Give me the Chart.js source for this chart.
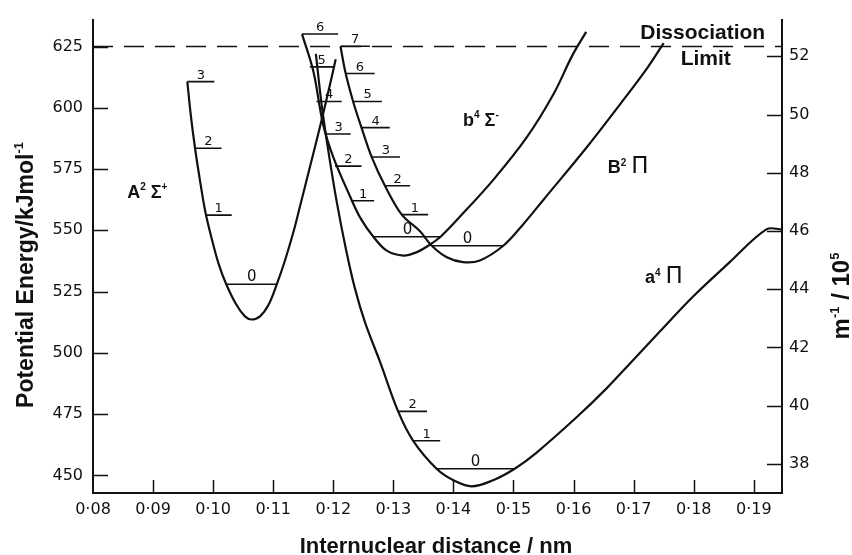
<!DOCTYPE html>
<html>
<head>
<meta charset="utf-8">
<script src="https://cdn.jsdelivr.net/npm/chart.js@4.4.1/dist/chart.umd.min.js"></script>
<style>
  html, body { margin: 0; padding: 0; background: #fff; }
  #wrap { width: 852px; height: 555px; }
</style>
</head>
<body>
<div id="wrap"><canvas id="myChart"></canvas></div>
<script>
// potential curves: internuclear distance (nm) / energy (kJ mol-1)
var stateA_r = [0.0957, 0.0963, 0.0970, 0.0978, 0.0987, 0.0997, 0.1009, 0.1022, 0.1039, 0.1053, 0.1064, 0.1078, 0.1092, 0.1106, 0.1120, 0.1134, 0.1144, 0.1161, 0.1179, 0.1193, 0.1204];
var stateA_E = [610.7, 596.6, 583.3, 570.5, 557.6, 547.2, 536.4, 527.9, 519.5, 514.9, 513.6, 514.9, 519.5, 528.0, 538.0, 549.6, 559.2, 575.7, 593.4, 607.9, 619.8];

var stateb_r = [0.1148, 0.1167, 0.1183, 0.1200, 0.1228, 0.1245, 0.1267, 0.1289, 0.1317, 0.1339, 0.1358, 0.1380, 0.1411, 0.1466, 0.1522, 0.1566, 0.1598, 0.1621];
var stateb_E = [630.1, 614.7, 593.3, 579.9, 563.8, 555.1, 547.3, 541.7, 539.7, 541.1, 543.7, 547.7, 555.6, 570.5, 587.9, 605.3, 621.4, 631.0];

var stateB_r = [0.1212, 0.1220, 0.1233, 0.1247, 0.1264, 0.1286, 0.1314, 0.1344, 0.1364, 0.1389, 0.1416, 0.1444, 0.1483, 0.1516, 0.1550, 0.1622, 0.1677, 0.1722, 0.1750];
var stateB_E = [625.1, 614.7, 602.6, 591.9, 579.9, 568.2, 556.4, 549.7, 543.7, 539.0, 537.0, 537.7, 543.7, 552.4, 562.5, 583.9, 601.3, 616.0, 626.4];

var statea_r = [0.1171, 0.1181, 0.1193, 0.1206, 0.1221, 0.1236, 0.1253, 0.1278, 0.1308, 0.1333, 0.1372, 0.1400, 0.1430, 0.1466, 0.1502, 0.1538, 0.1605, 0.1655, 0.1699, 0.1744, 0.1799, 0.1860, 0.1921, 0.1947];
var statea_E = [622.0, 600.6, 580.5, 561.3, 542.4, 526.3, 512.3, 496.2, 476.1, 464.1, 452.7, 448.0, 445.5, 448.0, 452.7, 459.2, 473.7, 485.5, 497.0, 508.8, 523.0, 537.0, 550.4, 550.4];

// vibrational levels v = 0,1,2... : left end, right end, energy
var levelsA_r1 = [0.1023, 0.0987, 0.0970, 0.0957];
var levelsA_r2 = [0.1106, 0.1031, 0.1014, 0.1002];
var levelsA_E  = [528.0, 556.2, 583.5, 610.7];

var levelsb_r1 = [0.1267, 0.1231, 0.1203, 0.1189, 0.1172, 0.1161, 0.1148];
var levelsb_r2 = [0.1380, 0.1268, 0.1247, 0.1229, 0.1214, 0.1200, 0.1208];
var levelsb_E  = [547.4, 562.1, 576.2, 589.3, 602.6, 616.7, 630.1];

var levelsB_r1 = [0.1364, 0.1314, 0.1286, 0.1264, 0.1247, 0.1233, 0.1220, 0.1212];
var levelsB_r2 = [0.1483, 0.1358, 0.1328, 0.1311, 0.1294, 0.1281, 0.1269, 0.1261];
var levelsB_E  = [543.7, 556.4, 568.2, 579.9, 591.9, 602.6, 614.0, 625.1];

var levelsa_r1 = [0.1372, 0.1333, 0.1308];
var levelsa_r2 = [0.1502, 0.1378, 0.1356];
var levelsa_E  = [452.7, 464.1, 476.1];

var dissociationE = 625;

var xTicks = [0.08, 0.09, 0.10, 0.11, 0.12, 0.13, 0.14, 0.15, 0.16, 0.17, 0.18, 0.19];
var xTickLabels = ['0·08', '0·09', '0·10', '0·11', '0·12', '0·13', '0·14', '0·15', '0·16', '0·17', '0·18', '0·19'];
var energyTicks = [450, 475, 500, 525, 550, 575, 600, 625];
var waveTicks = [38, 40, 42, 44, 46, 48, 50, 52];

var xMin = 0.08, xMax = 0.1947;
var eMin = 442.8, eMax = 636.0;
var wMin = 37.0, wMax = 53.26;

function zip(xs, ys) {
  var out = [];
  for (var i = 0; i < xs.length; i++) out.push({x: xs[i], y: ys[i]});
  return out;
}

function levelPoints(r1, r2, e) {
  var out = [];
  for (var i = 0; i < e.length; i++) {
    out.push({x: r1[i], y: e[i]});
    out.push({x: r2[i], y: e[i]});
    out.push({x: NaN, y: NaN});
  }
  return out;
}

function curve(label, xs, ys) {
  return {
    label: label, data: zip(xs, ys), showLine: true, borderColor: '#111',
    borderWidth: 2.2, pointRadius: 0, tension: 0.35, fill: false
  };
}

function levels(label, r1, r2, e) {
  return {
    label: label, data: levelPoints(r1, r2, e), showLine: true, borderColor: '#111',
    borderWidth: 1.6, pointRadius: 0, tension: 0, spanGaps: false, fill: false
  };
}

var levelSets = [
  [levelsA_r1, levelsA_r2, levelsA_E],
  [levelsb_r1, levelsb_r2, levelsb_E],
  [levelsB_r1, levelsB_r2, levelsB_E],
  [levelsa_r1, levelsa_r2, levelsa_E]
];

function partFont(p, size) {
  if (p.sup) return 'bold ' + Math.round(size * 0.55) + 'px "Liberation Sans", Arial, sans-serif';
  if (p.pi) return Math.round(size * 1.25) + 'px "DejaVu Sans", sans-serif';
  return 'bold ' + size + 'px "Liberation Sans", Arial, sans-serif';
}

function drawRich(ctx, parts, x, y, size, align) {
  var total = 0, widths = [];
  parts.forEach(function (p) {
    ctx.font = partFont(p, size);
    var w = ctx.measureText(p.t).width;
    widths.push(w);
    total += w;
  });
  var cx = align === 'center' ? x - total / 2 : x;
  ctx.textAlign = 'left';
  ctx.textBaseline = 'alphabetic';
  parts.forEach(function (p, i) {
    ctx.font = partFont(p, size);
    ctx.fillText(p.t, cx, p.sup ? y - size * 0.42 : y);
    cx += widths[i];
  });
}

var annotations = {
  id: 'annotations',
  afterDraw: function (chart) {
    var ctx = chart.ctx;
    var sx = chart.scales.x, sy = chart.scales.y, sw = chart.scales.y2;
    var area = chart.chartArea;
    ctx.save();
    ctx.strokeStyle = '#111';
    ctx.fillStyle = '#111';

    // inward tick marks
    ctx.lineWidth = 1.5;
    ctx.beginPath();
    xTicks.forEach(function (v, i) {
      if (i === 0) return;
      var p = Math.round(sx.getPixelForValue(v)) + 0.5;
      ctx.moveTo(p, area.bottom);
      ctx.lineTo(p, area.bottom - 13);
    });
    energyTicks.forEach(function (v) {
      var p = Math.round(sy.getPixelForValue(v)) + 0.5;
      ctx.moveTo(area.left, p);
      ctx.lineTo(area.left + 15, p);
    });
    waveTicks.forEach(function (v) {
      var p = Math.round(sw.getPixelForValue(v)) + 0.5;
      ctx.moveTo(area.right, p);
      ctx.lineTo(area.right - 15, p);
    });
    ctx.stroke();

    // vibrational quantum numbers above each level
    ctx.textAlign = 'center';
    ctx.textBaseline = 'alphabetic';
    levelSets.forEach(function (set) {
      for (var v = 0; v < set[2].length; v++) {
        var mx = (sx.getPixelForValue(set[0][v]) + sx.getPixelForValue(set[1][v])) / 2;
        var my = sy.getPixelForValue(set[2][v]);
        ctx.font = (v === 0 ? '15px' : '13px') + ' "DejaVu Sans", sans-serif';
        ctx.fillText(String(v), mx, my - 3);
      }
    });

    // state labels
    drawRich(ctx, [{t: 'A'}, {t: '2', sup: true}, {t: ' Σ'}, {t: '+', sup: true}],
      sx.getPixelForValue(0.0857), sy.getPixelForValue(563.3), 18, 'left');
    drawRich(ctx, [{t: 'b'}, {t: '4', sup: true}, {t: ' Σ'}, {t: '-', sup: true}],
      sx.getPixelForValue(0.1416), sy.getPixelForValue(592.6), 18, 'left');
    drawRich(ctx, [{t: 'B'}, {t: '2', sup: true}, {t: ' '}, {t: 'Π', pi: true}],
      sx.getPixelForValue(0.1657), sy.getPixelForValue(573.3), 18, 'left');
    drawRich(ctx, [{t: 'a'}, {t: '4', sup: true}, {t: ' '}, {t: 'Π', pi: true}],
      sx.getPixelForValue(0.1719), sy.getPixelForValue(528.3), 18, 'left');
    drawRich(ctx, [{t: 'Dissociation'}], sx.getPixelForValue(0.1815), sy.getPixelForValue(627.9), 21, 'center');
    drawRich(ctx, [{t: 'Limit'}], sx.getPixelForValue(0.1820), sy.getPixelForValue(617.5), 21, 'center');

    // axis titles
    drawRich(ctx, [{t: 'Internuclear distance / nm'}], 436, 553, 22, 'center');

    ctx.save();
    ctx.translate(25, 275);
    ctx.rotate(-Math.PI / 2);
    drawRich(ctx, [{t: 'Potential Energy/kJmol'}, {t: '-1', sup: true}], 0, 8, 23, 'center');
    ctx.restore();

    ctx.save();
    ctx.translate(841, 296);
    ctx.rotate(-Math.PI / 2);
    drawRich(ctx, [{t: 'm'}, {t: '-1', sup: true}, {t: ' / 10'}, {t: '5', sup: true}], 0, 8, 24, 'center');
    ctx.restore();

    ctx.restore();
  }
};

var ctx = document.getElementById('myChart').getContext('2d');
var myChart = new Chart(ctx, {
  type: 'scatter',
  data: {
    datasets: [
      curve('A2Σ+', stateA_r, stateA_E),
      curve('b4Σ-', stateb_r, stateb_E),
      curve('B2Π', stateB_r, stateB_E),
      curve('a4Π', statea_r, statea_E),
      levels('A levels', levelsA_r1, levelsA_r2, levelsA_E),
      levels('b levels', levelsb_r1, levelsb_r2, levelsb_E),
      levels('B levels', levelsB_r1, levelsB_r2, levelsB_E),
      levels('a levels', levelsa_r1, levelsa_r2, levelsa_E),
      {
        label: 'Dissociation Limit',
        data: [{x: xMin, y: dissociationE}, {x: xMax, y: dissociationE}],
        showLine: true, borderColor: '#111', borderWidth: 1.5, borderDash: [20, 11], pointRadius: 0
      }
    ]
  },
  options: {
    responsive: true,
    maintainAspectRatio: false,
    animation: false,
    devicePixelRatio: 1,
    layout: { padding: { top: 12, left: 0, right: 0, bottom: 0 } },
    plugins: { legend: { display: false }, tooltip: { enabled: false } },
    scales: {
      x: {
        type: 'linear', min: xMin, max: xMax,
        grid: { display: false, drawTicks: false },
        border: { display: true, color: '#111', width: 2 },
        afterBuildTicks: function (scale) { scale.ticks = xTicks.map(function (v) { return {value: v}; }); },
        afterFit: function (scale) { scale.height = 62; },
        ticks: {
          padding: 7, maxRotation: 0, autoSkip: false, color: '#111',
          font: { family: '"DejaVu Sans", sans-serif', size: 16 },
          callback: function (value) {
            var i = xTicks.findIndex(function (t) { return Math.abs(t - value) < 1e-6; });
            return i >= 0 ? xTickLabels[i] : '';
          }
        }
      },
      y: {
        type: 'linear', position: 'left', min: eMin, max: eMax,
        grid: { display: false, drawTicks: false },
        border: { display: true, color: '#111', width: 2 },
        afterBuildTicks: function (scale) { scale.ticks = energyTicks.map(function (v) { return {value: v}; }); },
        afterFit: function (scale) { scale.width = 93; },
        ticks: {
          padding: 10, color: '#111',
          font: { family: '"DejaVu Sans", sans-serif', size: 16 }
        }
      },
      y2: {
        type: 'linear', position: 'right', min: wMin, max: wMax,
        grid: { display: false, drawTicks: false, drawOnChartArea: false },
        border: { display: true, color: '#111', width: 2 },
        afterBuildTicks: function (scale) { scale.ticks = waveTicks.map(function (v) { return {value: v}; }); },
        afterFit: function (scale) { scale.width = 70; },
        ticks: {
          padding: 7, color: '#111',
          font: { family: '"DejaVu Sans", sans-serif', size: 16 }
        }
      }
    }
  },
  plugins: [annotations]
});
</script>
</body>
</html>
